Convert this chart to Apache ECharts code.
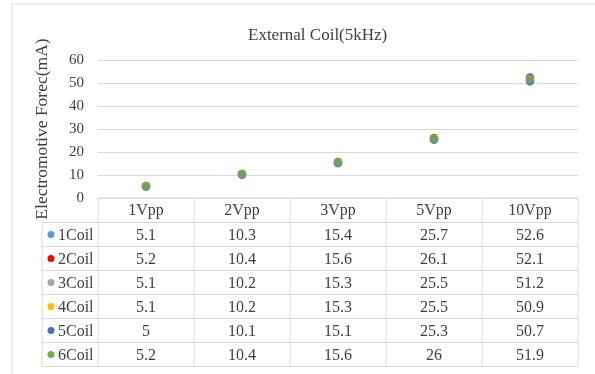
<!DOCTYPE html>
<html>
<head>
<meta charset="utf-8">
<script src="https://cdn.jsdelivr.net/npm/echarts@6/dist/echarts.min.js"></script>
<style>
  html, body { margin: 0; padding: 0; background: #fff; }
  #chart { width: 595px; height: 374px; }
</style>
</head>
<body>
<div id="chart"></div>
<script>
// Excitation voltages (x categories)
const categories = ['1Vpp', '2Vpp', '3Vpp', '5Vpp', '10Vpp'];

// Measured electromotive force per coil (mA)
const coil1 = [5.1, 10.3, 15.4, 25.7, 52.6];
const coil2 = [5.2, 10.4, 15.6, 26.1, 52.1];
const coil3 = [5.1, 10.2, 15.3, 25.5, 51.2];
const coil4 = [5.1, 10.2, 15.3, 25.5, 50.9];
const coil5 = [5.0, 10.1, 15.1, 25.3, 50.7];
const coil6 = [5.2, 10.4, 15.6, 26.0, 51.9];

const seriesNames = ['1Coil', '2Coil', '3Coil', '4Coil', '5Coil', '6Coil'];
const seriesValues = [coil1, coil2, coil3, coil4, coil5, coil6];
const seriesColors = ['#5B9BD5', '#FF0000', '#A5A5A5', '#FFC000', '#4472C4', '#70AD47'];

const yTicks = [0, 10, 20, 30, 40, 50, 60];

const FONT = '"Liberation Serif", "DejaVu Serif", serif';
const LINE = '#d9d9d9';
const TEXT = '#404040';

const chart = echarts.init(document.getElementById('chart'));

const baseOption = {
  animation: false,
  backgroundColor: '#fff',
  title: {
    text: 'External Coil(5kHz)',
    left: 243,
    top: 22,
    textStyle: { fontFamily: FONT, fontSize: 17, fontWeight: 'normal', color: TEXT }
  },
  grid: { left: 98, right: 17, top: 60, bottom: 176, containLabel: false },
  xAxis: {
    type: 'category',
    data: categories,
    boundaryGap: true,
    axisLine: { show: true, lineStyle: { color: LINE } },
    axisTick: { show: false },
    axisLabel: { show: false },
    splitLine: { show: false }
  },
  yAxis: {
    type: 'value',
    min: yTicks[0],
    max: yTicks[yTicks.length - 1],
    interval: 10,
    name: 'Electromotive Forec(mA)',
    nameLocation: 'middle',
    nameGap: 47,
    nameRotate: 90,
    nameTextStyle: { fontFamily: FONT, fontSize: 17.5, color: TEXT },
    axisLine: { show: false },
    axisTick: { show: false },
    axisLabel: { fontFamily: FONT, fontSize: 15, color: TEXT, margin: 14 },
    splitLine: { lineStyle: { color: LINE, width: 1 } }
  },
  series: seriesNames.map((name, i) => ({
    name: name,
    type: 'scatter',
    symbol: 'circle',
    symbolSize: 8.5,
    itemStyle: { color: seriesColors[i] },
    data: seriesValues[i]
  }))
};

chart.setOption(baseOption);

// Data table below the plot, aligned to the category columns
function buildTable() {
  const g = [];
  const zeroY = chart.convertToPixel({ yAxisIndex: 0 }, 0);
  const centers = categories.map((c) => chart.convertToPixel({ xAxisIndex: 0 }, c));
  const colW = centers.length > 1 ? centers[1] - centers[0] : 96;
  const tableLeft = centers[0] - colW / 2;
  const tableRight = centers[centers.length - 1] + colW / 2;
  const legendLeft = 42;
  const headerH = 24.5;
  const rowH = 24;
  const top = zeroY;
  const bodyTop = top + headerH;
  const bottom = bodyTop + rowH * seriesNames.length;

  const line = (x1, y1, x2, y2) => ({
    type: 'line',
    shape: { x1: x1, y1: y1, x2: x2, y2: y2 },
    style: { stroke: LINE, lineWidth: 1 },
    silent: true
  });
  const text = (x, y, s, align) => ({
    type: 'text',
    x: x, y: y,
    style: { text: s, fontFamily: FONT, fontSize: 16, fill: TEXT, align: align || 'center', verticalAlign: 'middle' },
    silent: true
  });

  // horizontal rules
  g.push(line(tableLeft, top, tableRight, top));
  for (let r = 0; r <= seriesNames.length; r++) {
    const y = bodyTop + r * rowH;
    g.push(line(legendLeft, y, tableRight, y));
  }
  // vertical rules
  g.push(line(legendLeft, bodyTop, legendLeft, bottom));
  for (let c = 0; c <= categories.length; c++) {
    const x = tableLeft + c * colW;
    g.push(line(x, top, x, bottom));
  }
  // header row
  categories.forEach((cat, c) => g.push(text(centers[c], top + headerH / 2 + 1, cat)));
  // body rows
  seriesNames.forEach((name, r) => {
    const cy = bodyTop + r * rowH + rowH / 2 + 1;
    g.push({
      type: 'circle',
      shape: { cx: 51, cy: cy - 1, r: 3.5 },
      style: { fill: seriesColors[r] },
      silent: true
    });
    g.push(text(58, cy, name, 'left'));
    seriesValues[r].forEach((v, c) => g.push(text(centers[c], cy, String(v))));
  });

  // chart frame
  g.push(line(12, 4, 595, 4));
  g.push(line(12, 4, 12, 374));

  chart.setOption({ graphic: { elements: g } });
}

buildTable();
</script>
</body>
</html>
